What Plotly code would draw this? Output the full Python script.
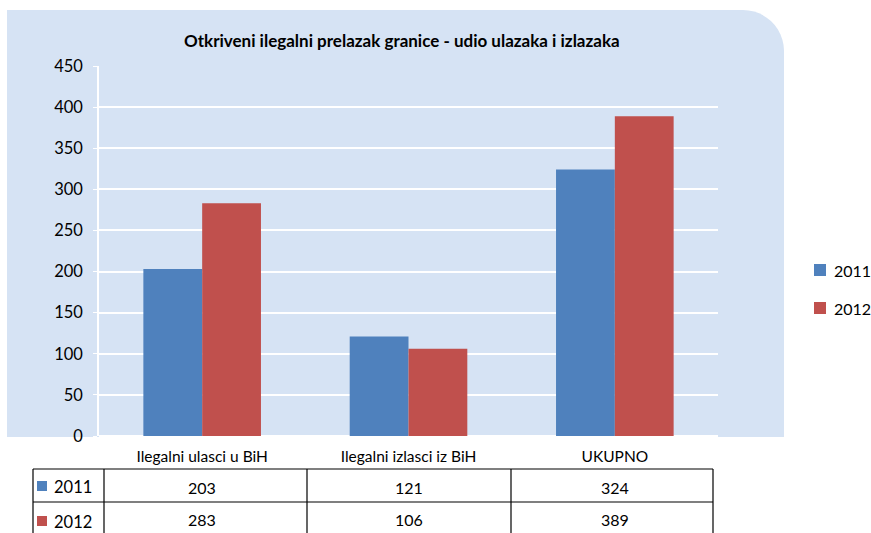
import plotly.graph_objects as go

categories = ["Ilegalni ulasci u BiH", "Ilegalni izlasci iz BiH", "UKUPNO"]
series_names = ["2011", "2012"]
values_2011 = [203, 121, 324]
values_2012 = [283, 106, 389]
y_ticks = [0, 50, 100, 150, 200, 250, 300, 350, 400, 450]
title_text = "Otkriveni ilegalni prelazak granice - udio ulazaka i izlazaka"

BLUE = "#4F81BD"
RED = "#C0504D"
PANEL = "#D6E3F4"
FONT = "Lato, 'Open Sans', sans-serif"

W_PX, H_PX = 871, 533
L, R, T, B = 99, 718, 66, 436
PW, PH = R - L, B - T


def px(x):
    return (x - L) / PW


def py(y):
    return (B - y) / PH


fig = go.Figure()
fig.add_trace(go.Bar(x=categories, y=values_2011, name=series_names[0],
                     marker=dict(color=BLUE, line=dict(width=0)), showlegend=False))
fig.add_trace(go.Bar(x=categories, y=values_2012, name=series_names[1],
                     marker=dict(color=RED, line=dict(width=0)), showlegend=False))

shapes = []
# background panel with rounded top-right corner
x0, x1 = px(7), px(784)
yt, yb = py(10), py(437)
rx, ry = 41 / PW, 41 / PH
k = 0.5523
path = (f"M {x0},{yb} L {x0},{yt} L {x1-rx},{yt} "
        f"C {x1-rx+k*rx},{yt} {x1},{yt-ry+k*ry} {x1},{yt-ry} "
        f"L {x1},{yb} Z")
shapes.append(dict(type="path", xref="paper", yref="paper", path=path,
                   fillcolor=PANEL, line=dict(width=0), layer="below"))

# data table lines
tx = [33, 104, 307, 511, 713]
ty_top, ty_mid, ty_bot = 469, 502, 535
line_style = dict(color="black", width=1.2)
for yy in (ty_top, ty_mid):
    shapes.append(dict(type="line", xref="paper", yref="paper",
                       x0=px(tx[0]), x1=px(tx[-1]), y0=py(yy), y1=py(yy), line=line_style))
for xx in tx:
    shapes.append(dict(type="line", xref="paper", yref="paper",
                       x0=px(xx), x1=px(xx), y0=py(ty_top), y1=py(ty_bot), line=line_style))

annotations = []
row_centers = [487, 519]
row_label_y = [487, 522]
legend_y = [270, 308]
series_values = [values_2011, values_2012]
colors = [BLUE, RED]
for r, (name, vals, col) in enumerate(zip(series_names, series_values, colors)):
    # table row label with colour key
    sq_top = row_label_y[r] - 6
    shapes.append(dict(type="rect", xref="paper", yref="paper",
                       x0=px(37), x1=px(47), y0=py(sq_top), y1=py(sq_top + 10),
                       fillcolor=col, line=dict(width=0)))
    annotations.append(dict(xref="paper", yref="paper", x=px(52), y=py(row_label_y[r]),
                            text=name, showarrow=False, xanchor="left", yanchor="middle",
                            font=dict(family=FONT, size=16.5, color="black")))
    for c, v in enumerate(vals):
        annotations.append(dict(xref="x", yref="paper", x=categories[c], y=py(row_centers[r]),
                                text=str(v), showarrow=False, xanchor="center", yanchor="middle",
                                font=dict(family=FONT, size=16, color="black")))
    # legend entry
    ly = legend_y[r]
    shapes.append(dict(type="rect", xref="paper", yref="paper",
                       x0=px(814), x1=px(826), y0=py(ly - 6), y1=py(ly + 6),
                       fillcolor=col, line=dict(width=0)))
    annotations.append(dict(xref="paper", yref="paper", x=px(832), y=py(ly),
                            text=name, showarrow=False, xanchor="left", yanchor="middle",
                            font=dict(family=FONT, size=16, color="black")))

annotations.append(dict(xref="paper", yref="paper", x=px(402), y=py(40),
                        text=f"<b>{title_text}</b>", showarrow=False,
                        xanchor="center", yanchor="middle",
                        font=dict(family=FONT, size=17, color="black")))

fig.update_layout(
    width=W_PX, height=H_PX, autosize=False,
    margin=dict(l=L, r=W_PX - R, t=T, b=H_PX - B, pad=0, autoexpand=False),
    paper_bgcolor="white",
    plot_bgcolor="rgba(0,0,0,0)",
    barmode="group",
    bargap=0.43,
    bargroupgap=0,
    font=dict(family=FONT, size=14, color="black"),
    shapes=shapes,
    annotations=annotations,
    showlegend=False,
    xaxis=dict(
        type="category",
        showgrid=False, zeroline=False, showline=False,
        ticks="outside", ticklen=6, tickcolor="rgba(0,0,0,0)",
        tickfont=dict(family=FONT, size=15.5, color="black"),
    ),
    yaxis=dict(
        range=[0, 450],
        tickvals=y_ticks,
        showgrid=True, gridcolor="white", gridwidth=1.5,
        zeroline=True, zerolinecolor="white", zerolinewidth=1.5,
        showline=True, linecolor="white", linewidth=1.5,
        ticks="outside", ticklen=4, tickcolor="white",
        ticklabelstandoff=7,
        tickfont=dict(family=FONT, size=16.5, color="black"),
    ),
)

fig.write_html(
    "out.html",
    config={"responsive": False, "displayModeBar": False},
    default_width="871px", default_height="533px",
    post_script="document.body.style.margin='0';document.body.style.overflow='hidden';",
)
